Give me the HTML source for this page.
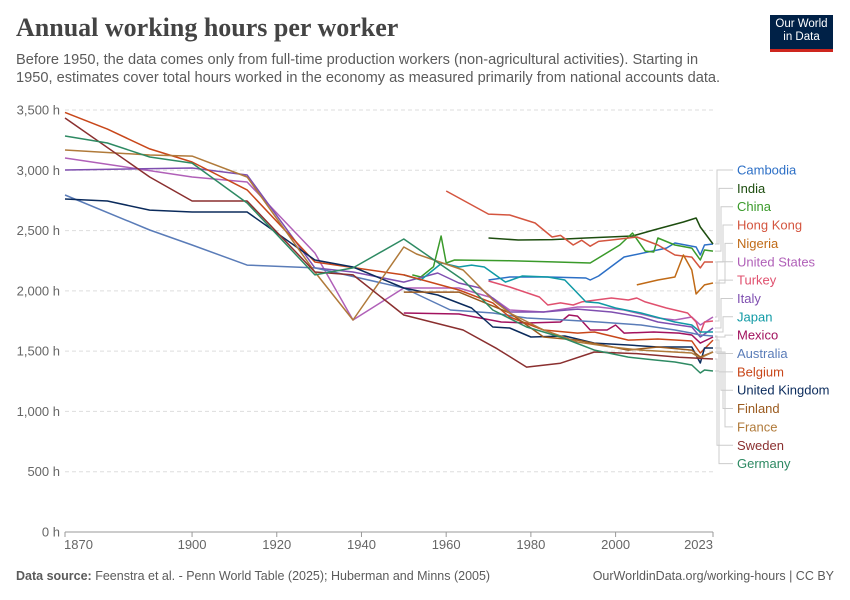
<!DOCTYPE html>
<html><head><meta charset="utf-8">
<style>
body{margin:0;background:#fff;width:850px;height:600px;overflow:hidden;font-family:"Liberation Sans",sans-serif;}
#title{position:absolute;left:16px;top:13px;font-family:"Liberation Serif",serif;font-size:26px;font-weight:bold;color:#444;}
#sub{position:absolute;left:16px;top:51px;width:714px;font-size:14.6px;line-height:18px;color:#5b5b5b;}
#logo{position:absolute;left:770px;top:15px;width:63px;height:37px;background:#002147;color:#fff;font-size:11.5px;line-height:13px;text-align:center;padding-top:3px;box-sizing:border-box;border-bottom:3px solid #ce261e;}
#foot{position:absolute;left:16px;top:569px;width:818px;font-size:12.5px;color:#5b5b5b;}
#foot b{font-weight:bold;color:#5b5b5b}
#foot .r{position:absolute;right:0;top:0}
svg{position:absolute;left:0;top:0}
</style></head><body>
<div id="title">Annual working hours per worker</div>
<div id="sub">Before 1950, the data comes only from full-time production workers (non-agricultural activities). Starting in 1950, estimates cover total hours worked in the economy as measured primarily from national accounts data.</div>
<div id="logo">Our World<br>in Data</div>
<svg id="chart" width="850" height="600"></svg>
<div id="foot"><b>Data source:</b> Feenstra et al. - Penn World Table (2025); Huberman and Minns (2005)<span class="r">OurWorldinData.org/working-hours | CC BY</span></div>
<script>
const yTicks=[0,500,1000,1500,2000,2500,3000,3500];
const xTicks=[1870,1900,1920,1940,1960,1980,2000,2023];
const seriesNames=["Cambodia","India","China","Hong Kong","Nigeria","United States","Turkey","Italy","Japan","Mexico","Australia","Belgium","United Kingdom","Finland","France","Sweden","Germany"];
const seriesColors=["#2c6fc6","#1d4d0f","#3a9a2a","#d4553f","#c06a16","#b060b8","#e0506e","#7f4fb0","#109aa5","#a2125e","#5a7cb8","#c8471a","#0b2b5c","#9a5a1e","#b07a3a","#8a2f2f","#2e8a63"];
const cambodia=[[1970,2090],[1975,2115],[1984,2115],[1993,2107],[1994,2090],[1996,2123],[2002,2281],[2012,2355],[2014,2397],[2019,2364],[2020,2297],[2021,2380],[2023,2389]];
const india=[[1970,2438],[1977,2422],[1985,2425],[1993,2438],[2004,2455],[2009,2505],[2016,2571],[2019,2604],[2020,2530],[2023,2389]];
const china=[[1952,2132],[1954,2115],[1957,2200],[1958.8,2455],[1960,2231],[1962,2256],[1975,2250],[1985,2240],[1994,2231],[2001,2380],[2004,2480],[2007,2330],[2009,2322],[2010,2438],[2014,2380],[2018,2355],[2020,2256],[2021,2339],[2023,2330]];
const hongKong=[[1960,2828],[1970,2637],[1975,2629],[1981,2563],[1985,2447],[1987,2460],[1990,2380],[1992,2420],[1994,2370],[1996,2410],[1999,2422],[2005,2447],[2010,2380],[2014,2297],[2018,2280],[2020,2190],[2021,2239],[2023,2239]];
const nigeria=[[2005,2049],[2010,2090],[2014,2115],[2016,2297],[2018,2173],[2019,1974],[2021,2049],[2023,2065]];
const us=[[1870,3102],[1900,2944],[1913,2903],[1929,2314],[1938,1758],[1950,2024],[1963,2024],[1971,1941],[1975,1841],[1983,1825],[1991,1866],[1996,1866],[2002,1841],[2010,1775],[2014,1758],[2018,1783],[2020,1717],[2023,1783]];
const turkey=[[1970,2082],[1975,2032],[1982,1949],[1984,1883],[1987,1900],[1990,1883],[1992,1908],[1999,1941],[2003,1924],[2005,1941],[2007,1908],[2012,1858],[2017,1816],[2019,1742],[2020,1650],[2021,1742],[2023,1750]];
const italy=[[1870,3002],[1900,3019],[1913,2961],[1929,2190],[1938,2156],[1950,2073],[1958,2148],[1963,2065],[1968,2024],[1975,1825],[1983,1825],[1991,1849],[1999,1825],[2006,1783],[2010,1742],[2018,1700],[2020,1617],[2023,1692]];
const japan=[[1950,2132],[1954,2090],[1959,2231],[1963,2198],[1966,2214],[1969,2198],[1974,2073],[1978,2123],[1984,2115],[1988,2090],[1993,1908],[1996,1900],[2000,1858],[2006,1816],[2014,1742],[2018,1717],[2020,1659],[2023,1659]];
const mexico=[[1950,1816],[1963,1808],[1973,1742],[1979,1733],[1987,1742],[1989,1800],[1991,1791],[1994,1675],[1998,1675],[2000,1717],[2002,1650],[2009,1659],[2015,1650],[2018,1634],[2020,1567],[2023,1617]];
const australia=[[1870,2795],[1890,2505],[1900,2380],[1913,2214],[1929,2190],[1950,2024],[1961,1841],[1971,1816],[1979,1775],[1988,1758],[1996,1742],[2006,1717],[2014,1675],[2018,1650],[2020,1634],[2023,1626]];
const belgium=[[1870,3480],[1880,3342],[1890,3177],[1900,3069],[1913,2837],[1929,2239],[1950,2132],[1963,2007],[1971,1900],[1975,1783],[1983,1675],[1991,1650],[1995,1659],[2003,1592],[2010,1601],[2018,1584],[2020,1485],[2023,1592]];
const uk=[[1870,2762],[1880,2745],[1890,2670],[1900,2654],[1913,2654],[1929,2256],[1938,2198],[1950,2024],[1958,1966],[1966,1858],[1971,1700],[1975,1692],[1980,1617],[1988,1626],[1995,1567],[2003,1551],[2010,1534],[2018,1534],[2020,1402],[2021,1526],[2023,1526]];
const finland=[[1950,1990],[1963,1990],[1975,1816],[1983,1617],[1991,1592],[2003,1509],[2010,1534],[2018,1509],[2020,1451],[2023,1493]];
const france=[[1870,3168],[1890,3127],[1900,3118],[1913,2944],[1929,2156],[1938,1758],[1950,2364],[1953,2306],[1964,2173],[1971,1924],[1975,1816],[1983,1675],[1991,1576],[1999,1534],[2006,1509],[2018,1485],[2020,1443],[2023,1493]];
const sweden=[[1870,3434],[1890,2944],[1900,2745],[1913,2745],[1929,2156],[1938,2132],[1950,1800],[1964,1675],[1972,1520],[1979,1368],[1987,1400],[1995,1493],[2005,1480],[2015,1450],[2023,1435]];
const germany=[[1870,3284],[1880,3226],[1890,3110],[1900,3060],[1913,2729],[1929,2132],[1938,2190],[1950,2430],[1964,2090],[1971,1841],[1979,1700],[1987,1617],[1995,1509],[2003,1451],[2009,1427],[2014,1410],[2018,1385],[2020,1319],[2021,1344],[2023,1335]];
const seriesData=[cambodia,india,china,hongKong,nigeria,us,turkey,italy,japan,mexico,australia,belgium,uk,finland,france,sweden,germany];

const NS="http://www.w3.org/2000/svg";
const svg=document.getElementById('chart');
const X0=65,X1=713,Y0=532,Y1=110;
function xs(v){return X0+(v-1870)*(X1-X0)/(2023-1870);}
function ys(v){return Y0-(v)*(Y0-Y1)/3500;}
function mk(tag,attrs){const e=document.createElementNS(NS,tag);for(const k in attrs)e.setAttribute(k,attrs[k]);svg.appendChild(e);return e;}
yTicks.forEach(t=>{
  if(t>0){const g=mk('line',{x1:X0,x2:X1,y1:ys(t),y2:ys(t),stroke:'#ddd','stroke-dasharray':'4,3'});
  
  }
  const l=mk('text',{x:60,y:ys(t)+4.5,'text-anchor':'end','font-size':13,fill:'#666'});
  l.textContent=t.toLocaleString('en-US')+' h';
  
  
});
const ax=mk('line',{x1:X0,x2:X1,y1:Y0,y2:Y0,stroke:'#999'});


xTicks.forEach((t,i)=>{
  const tk=mk('line',{x1:xs(t),x2:xs(t),y1:Y0,y2:Y0+5,stroke:'#999'});
  
  
  const anchor=i==0?'start':(i==xTicks.length-1?'end':'middle');
  const l=mk('text',{x:xs(t)+(i==0?-1:0),y:Y0+17,'text-anchor':anchor,'font-size':13,fill:'#666'});
  l.textContent=t;
  
  
});
seriesData.forEach((d,i)=>{
  const p=mk('polyline',{points:d.map(q=>xs(q[0]).toFixed(1)+','+ys(q[1]).toFixed(1)).join(' '),fill:'none',stroke:seriesColors[i],'stroke-width':1.5,'stroke-linejoin':'round'});
  
  
  const last=d[d.length-1];
  const ey=ys(last[1]);const ly=170+i*18.35;
  const vx=717+ (i%5)*2;
  const c=mk('polyline',{points:`${X1+2},${ey} ${vx},${ey} ${vx},${ly} 733,${ly}`,fill:'none',stroke:'#ccc','stroke-width':1});
  
  
  const t=mk('text',{x:737,y:ly+4.5,'font-size':13,fill:seriesColors[i]});
  t.textContent=seriesNames[i];
  
  
});
</script>
</body></html>
